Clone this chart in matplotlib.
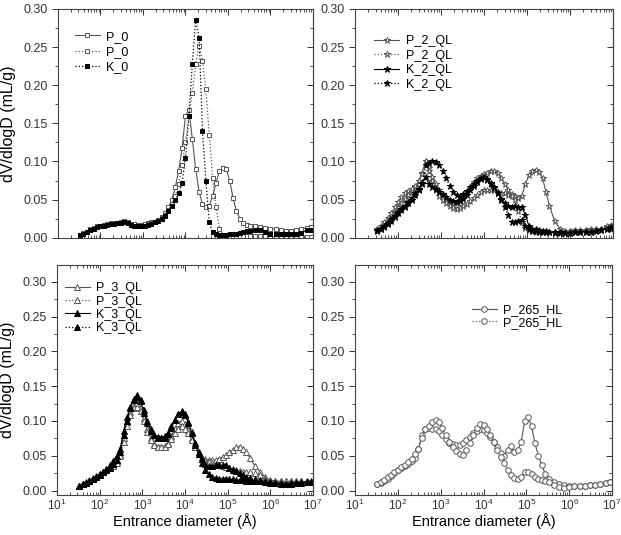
import numpy as np
import matplotlib
matplotlib.use('Agg')
import matplotlib.pyplot as plt
from matplotlib.ticker import LogLocator, MultipleLocator, NullFormatter

plt.rcParams['font.family'] = ['Liberation Sans', 'DejaVu Sans']
plt.rcParams['mathtext.fontset'] = 'custom'
plt.rcParams['mathtext.rm'] = 'Liberation Sans'

# log10 of entrance diameter (Angstrom), shared by all curves
log_d = [1.52, 1.60, 1.68, 1.76, 1.84, 1.92, 2.00, 2.08, 2.16, 2.24,
         2.32, 2.40, 2.48, 2.56, 2.64, 2.72, 2.80, 2.88, 2.96, 3.04,
         3.12, 3.20, 3.28, 3.36, 3.44, 3.52, 3.60, 3.68, 3.76, 3.84,
         3.92, 4.00, 4.08, 4.16, 4.24, 4.32, 4.40, 4.48, 4.56, 4.64,
         4.72, 4.80, 4.88, 4.96, 5.04, 5.12, 5.20, 5.28, 5.36, 5.44,
         5.52, 5.64, 5.76, 5.88, 6.00, 6.12, 6.24, 6.36, 6.48, 6.60,
         6.72, 6.85, 6.95]

# panel 1
p0_a = [.003, .006, .008, .011, .013, .015, .016, .017, .018, .019,
        .019, .019, .020, .022, .020, .018, .018, .017, .017, .018,
        .019, .020, .021, .023, .027, .032, .040, .050, .066, .088,
        .118, .160, .168, .130, .090, .060, .044, .040, .042, .055,
        .072, .088, .091, .090, .075, .052, .035, .025, .019, .017,
        .016, .015, .014, .013, .012, .011, .010, .009, .009, .010,
        .011, .013, .014]
p0_b = [.003, .005, .008, .010, .012, .014, .016, .017, .018, .018,
        .019, .019, .020, .022, .021, .018, .018, .017, .017, .018,
        .018, .019, .021, .023, .026, .030, .036, .044, .055, .070,
        .095, .125, .160, .190, .228, .252, .232, .195, .135, .078,
        .040, .012, .004, .002, .002, .002, .002, .002, .002, .002,
        .002, .002, .002, .002, .001, .001, .001, .001, .001, .001,
        .001, .001, .001]
k0 = [.003, .005, .007, .010, .012, .014, .015, .016, .017, .018,
      .018, .019, .019, .021, .019, .017, .016, .016, .016, .016,
      .017, .018, .020, .022, .025, .029, .035, .042, .050, .058,
      .072, .105, .160, .228, .286, .262, .140, .075, .020, .007,
      .005, .004, .004, .004, .005, .005, .005, .006, .007, .009,
      .009, .010, .010, .007, .005, .005, .005, .005, .005, .005,
      .006, .010, .010]

# panel 2
p2_a = [.010, .013, .017, .022, .028, .034, .040, .046, .051, .056,
        .061, .067, .074, .085, .101, .092, .080, .070, .062, .056,
        .051, .047, .045, .046, .049, .054, .060, .067, .073, .078,
        .081, .083, .085, .087, .088, .085, .078, .070, .063, .057,
        .055, .052, .055, .070, .082, .088, .089, .086, .078, .060,
        .042, .022, .012, .009, .009, .010, .010, .010, .011, .011,
        .012, .014, .016]
p2_b = [.012, .015, .020, .026, .033, .040, .047, .053, .058, .061,
        .064, .068, .074, .083, .100, .088, .074, .063, .055, .049,
        .045, .041, .039, .038, .039, .041, .044, .048, .052, .056,
        .060, .062, .063, .063, .062, .060, .058, .058, .056, .055,
        .050, .035, .020, .013, .010, .009, .008, .008, .008, .008,
        .008, .008, .008, .008, .009, .009, .009, .010, .010, .011,
        .012, .015, .017]
k2_a = [.010, .012, .015, .019, .024, .029, .034, .038, .042, .047,
        .052, .058, .064, .072, .080, .070, .067, .064, .060, .057,
        .053, .050, .048, .047, .048, .051, .056, .062, .068, .073,
        .077, .079, .076, .071, .065, .058, .051, .045, .041, .040,
        .041, .040, .040, .030, .016, .012, .011, .010, .009, .009,
        .008, .007, .007, .006, .006, .007, .007, .008, .008, .009,
        .010, .012, .014]
k2_b = [.009, .011, .014, .018, .022, .027, .032, .036, .040, .045,
        .050, .056, .062, .070, .095, .098, .100, .099, .095, .088,
        .078, .068, .060, .056, .055, .057, .061, .066, .071, .075,
        .078, .080, .077, .072, .066, .058, .050, .040, .030, .020,
        .021, .022, .023, .016, .011, .009, .009, .008, .008, .007,
        .007, .006, .006, .006, .006, .007, .007, .008, .008, .009,
        .010, .011, .012]

# panel 3
p3_a = [.007, .010, .012, .015, .018, .021, .024, .027, .030, .033,
        .037, .042, .052, .075, .098, .113, .122, .126, .118, .104,
        .088, .075, .067, .063, .062, .064, .069, .078, .088, .097,
        .100, .096, .087, .075, .062, .052, .047, .045, .044, .044,
        .044, .046, .048, .051, .055, .058, .062, .063, .060, .055,
        .047, .035, .027, .019, .015, .014, .013, .013, .013, .013,
        .013, .013, .014]
p3_b = [.007, .009, .012, .014, .017, .020, .023, .026, .029, .032,
        .035, .040, .050, .070, .092, .108, .118, .120, .114, .100,
        .084, .072, .065, .062, .062, .063, .067, .074, .082, .089,
        .092, .089, .082, .072, .062, .053, .047, .043, .041, .040,
        .038, .037, .035, .034, .032, .031, .029, .028, .027, .026,
        .026, .025, .022, .017, .014, .013, .013, .013, .013, .013,
        .013, .013, .014]
k3_a = [.006, .009, .011, .014, .017, .020, .024, .027, .031, .036,
        .042, .050, .060, .085, .105, .120, .132, .137, .128, .112,
        .097, .086, .080, .077, .076, .078, .083, .092, .102, .110,
        .113, .108, .097, .082, .066, .052, .040, .030, .024, .020,
        .018, .017, .017, .016, .016, .016, .015, .015, .015, .014,
        .014, .013, .013, .012, .011, .011, .010, .010, .010, .011,
        .011, .012, .012]
k3_b = [.007, .009, .011, .014, .017, .020, .023, .026, .029, .033,
        .038, .044, .055, .080, .100, .118, .130, .135, .130, .116,
        .100, .088, .080, .076, .075, .076, .081, .090, .101, .110,
        .114, .110, .099, .084, .068, .055, .045, .038, .035, .035,
        .036, .037, .037, .036, .033, .030, .028, .025, .022, .020,
        .018, .016, .015, .013, .012, .011, .011, .010, .011, .011,
        .012, .012, .012]

# panel 4
p265_a = [.009, .011, .014, .017, .021, .025, .029, .032, .035, .038,
          .042, .047, .060, .080, .088, .090, .088, .088, .085, .080,
          .074, .069, .067, .066, .066, .068, .072, .077, .082, .086,
          .088, .087, .083, .077, .070, .062, .054, .050, .058, .064,
          .056, .058, .070, .100, .106, .092, .068, .050, .036, .024,
          .017, .012, .009, .008, .007, .007, .007, .007, .008, .008,
          .009, .011, .012]
p265_b = [.010, .012, .015, .019, .022, .026, .030, .034, .037, .041,
          .046, .052, .060, .075, .088, .092, .098, .101, .098, .090,
          .080, .070, .063, .057, .052, .051, .058, .068, .080, .090,
          .096, .094, .088, .080, .070, .058, .048, .040, .030, .022,
          .018, .017, .020, .027, .027, .024, .020, .017, .015, .013,
          .012, .008, .005, .004, .005, .006, .007, .007, .008, .008,
          .009, .011, .012]

d = 10 ** np.array(log_d)

fig = plt.figure(figsize=(6.21, 5.35), dpi=100)
axes = [fig.add_axes([0.0934, 0.5557, 0.4106, 0.4275]),
        fig.add_axes([0.5717, 0.5557, 0.4155, 0.4275]),
        fig.add_axes([0.0918, 0.0740, 0.4122, 0.4307]),
        fig.add_axes([0.5717, 0.0740, 0.4139, 0.4307])]

gray = '#555555'
solid = dict(ls='-', lw=0.8)
dots = dict(ls=':', lw=0.9)

def curve(ax, y, marker, filled, style, label, ms):
    c = 'black' if filled else gray
    ax.plot(d, y, marker=marker, ms=ms, mew=0.7, color=c,
            mfc=c if filled else 'white', mec=c, label=label, **style)

ax = axes[0]
curve(ax, p0_a, 's', False, solid, 'P_0', 3.4)
curve(ax, p0_b, 's', False, dots, 'P_0', 3.4)
curve(ax, k0, 's', True, dots, 'K_0', 3.4)

ax = axes[1]
curve(ax, p2_a, '*', False, solid, 'P_2_QL', 4.6)
curve(ax, p2_b, '*', False, dots, 'P_2_QL', 4.6)
curve(ax, k2_a, '*', True, solid, 'K_2_QL', 4.6)
curve(ax, k2_b, '*', True, dots, 'K_2_QL', 4.6)

ax = axes[2]
curve(ax, p3_a, '^', False, solid, 'P_3_QL', 4)
curve(ax, p3_b, '^', False, dots, 'P_3_QL', 4)
curve(ax, k3_a, '^', True, solid, 'K_3_QL', 4)
curve(ax, k3_b, '^', True, dots, 'K_3_QL', 4)

ax = axes[3]
curve(ax, p265_a, 'o', False, solid, 'P_265_HL', 4)
curve(ax, p265_b, 'o', False, dots, 'P_265_HL', 4)

# (x, y, labelspacing) of each legend, axes fraction
legend_pos = [(0.065, 0.905, 0.27), (0.075, 0.885, 0.2), (0.03, 0.925, 0.1), (0.455, 0.83, 0.05)]

for i, ax in enumerate(axes):
    ax.set_xscale('log')
    ax.set_xlim(10, 1e7)
    if i < 2:
        ax.set_ylim(0, 0.30)
    else:
        ax.set_ylim(-0.007, 0.324)
    ax.xaxis.set_major_locator(LogLocator(base=10, numticks=10))
    ax.xaxis.set_minor_locator(LogLocator(base=10, subs=np.arange(2, 10), numticks=10))
    ax.xaxis.set_minor_formatter(NullFormatter())
    ax.yaxis.set_major_locator(MultipleLocator(0.05))
    ax.yaxis.set_minor_locator(MultipleLocator(0.025))
    ax.yaxis.set_major_formatter(plt.FormatStrFormatter('%.2f'))
    ax.tick_params(axis='x', which='both', direction='in', top=True, labelsize=8.5, colors='#333333', pad=2)
    ax.tick_params(axis='x', which='major', length=4, width=0.7)
    ax.tick_params(axis='x', which='minor', length=2, width=0.6)
    ax.tick_params(axis='y', which='both', direction='out', labelsize=9, colors='#333333')
    ax.tick_params(axis='y', which='major', length=4, width=0.7)
    ax.tick_params(axis='y', which='minor', length=2, width=0.6)
    sec = ax.secondary_yaxis('right')
    sec.yaxis.set_major_locator(MultipleLocator(0.05))
    sec.yaxis.set_minor_locator(MultipleLocator(0.025))
    sec.tick_params(which='both', direction='in', labelright=False, color='#333333')
    sec.tick_params(which='major', length=4, width=0.7)
    sec.tick_params(which='minor', length=2, width=0.6)
    sec.spines['right'].set_color('#444444')
    for s in ax.spines.values():
        s.set_color('#444444')
        s.set_linewidth(0.8)
    if i < 2:
        ax.tick_params(axis='x', labelbottom=False)
    else:
        ax.set_xlabel('Entrance diameter (Å)', fontsize=10.5)
        ax.xaxis.set_label_coords(0.5, -0.076)
    if i in (0, 2):
        ax.set_ylabel('dV/dlogD (mL/g)', fontsize=11.5, labelpad=5)
    lx, ly, sp = legend_pos[i]
    ax.legend(loc='upper left', bbox_to_anchor=(lx, ly), frameon=False,
              fontsize=9, handlelength=2.0, handletextpad=0.5,
              labelspacing=sp, borderpad=0, borderaxespad=0)

fig.savefig('out.png', dpi=100)
